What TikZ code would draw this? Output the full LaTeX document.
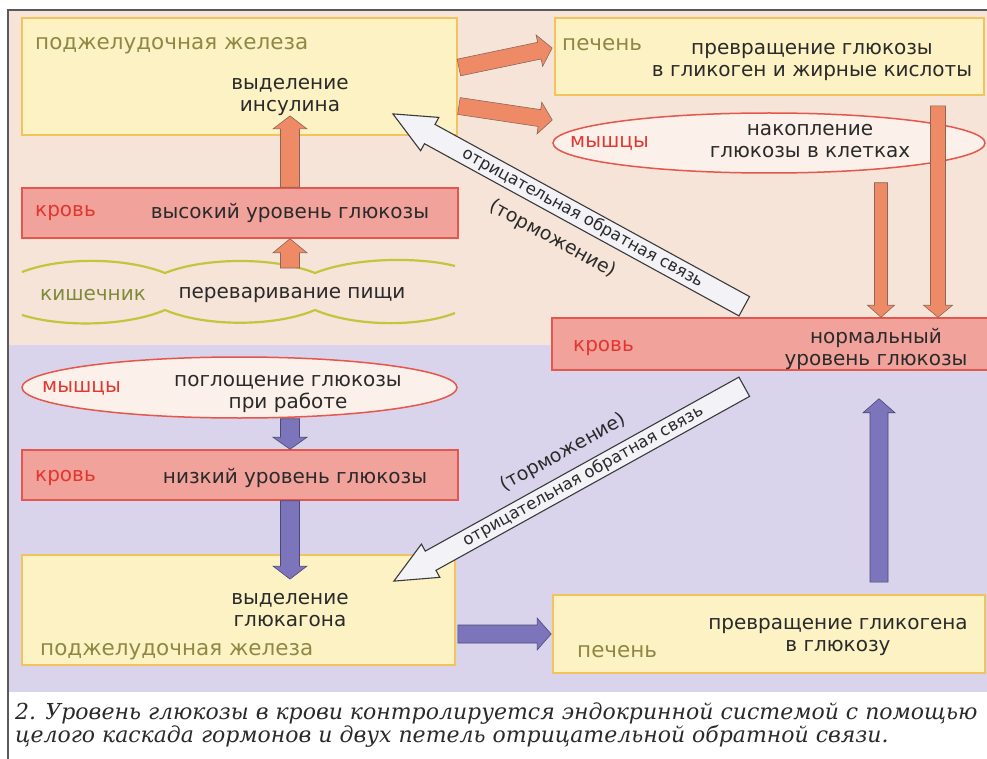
\documentclass[tikz,border=0pt]{standalone}
\usepackage{fontspec}
\setmainfont{DejaVu Sans}
\newfontfamily\capfont{DejaVu Serif}
\usetikzlibrary{calc,shapes.geometric}
\definecolor{peach}{HTML}{F6E4D8}
\definecolor{lav}{HTML}{D9D4EB}
\definecolor{yfill}{HTML}{FCF2C4}
\definecolor{ydraw}{HTML}{F3C45C}
\definecolor{bfill}{HTML}{F0A29B}
\definecolor{bdraw}{HTML}{E5574C}
\definecolor{redtxt}{HTML}{E2362E}
\definecolor{olivetxt}{HTML}{8E8845}
\definecolor{gutolive}{HTML}{7E8A3A}
\definecolor{darktxt}{HTML}{2A2A2A}
\definecolor{efill}{HTML}{FBF1EA}
\definecolor{orfill}{HTML}{EE8B66}
\definecolor{ordraw}{HTML}{8C6656}
\definecolor{pufill}{HTML}{7C75BC}
\definecolor{pudraw}{HTML}{4C4870}
\definecolor{fbfill}{HTML}{F3F3F7}
\definecolor{fbdraw}{HTML}{3A3A3A}
\definecolor{gutline}{HTML}{C2C63C}
\definecolor{framec}{HTML}{5A5A5A}
% #1 style, #2 tail, #3 tip, #4 shaft half width, #5 head half width, #6 head length
\newcommand{\fatarrow}[6][]{%
  \coordinate (faH) at ($(#3)!#6!(#2)$);
  \draw[#1] ($(#2)!#4!90:(#3)$) -- ($(faH)!#4!90:(#3)$) -- ($(faH)!#5!90:(#3)$) -- (#3)
    -- ($(faH)!#5!-90:(#3)$) -- ($(faH)!#4!-90:(#3)$) -- ($(#2)!#4!-90:(#3)$) -- cycle;
}
\begin{document}
\begin{tikzpicture}[x=1pt,y=-1pt,
  ybox/.style={draw=ydraw, fill=yfill, line width=1.8pt, rectangle, inner sep=0pt},
  bbox/.style={draw=bdraw, fill=bfill, line width=1.5pt, rectangle, inner sep=0pt},
  mbox/.style={draw=bdraw, fill=efill, line width=1.5pt, ellipse, inner sep=0pt},
  txt/.style={text=darktxt, font=\fontsize{20}{22}\selectfont, align=center, inner sep=0pt},
  redlbl/.style={text=redtxt, font=\fontsize{20}{22}\selectfont, anchor=west, inner sep=0pt},
  olvlbl/.style={text=olivetxt, font=\fontsize{21.5}{22}\selectfont, anchor=west, inner sep=0pt},
  orarrow/.style={fill=orfill, draw=ordraw, line width=0.6pt},
  puarrow/.style={fill=pufill, draw=pudraw, line width=0.6pt},
  fbarrow/.style={fill=fbfill, draw=fbdraw, line width=1.1pt},
  fblbl/.style={text=darktxt, font=\fontsize{16.5}{18}\selectfont, inner sep=0pt},
  tormlbl/.style={text=darktxt, font=\fontsize{19}{20}\selectfont, inner sep=0pt},
  caplbl/.style={text=darktxt, font=\capfont\itshape\fontsize{22}{25}\selectfont, anchor=base west, inner sep=0pt},
]
\useasboundingbox (0,0) rectangle (987,759);
\fill[white] (0,0) rectangle (987,759);
\fill[peach] (8,10) rectangle (987,345);
\fill[lav] (8,345) rectangle (987,692);
\draw[framec, line width=1.2pt] (8,759) -- (8,10) -- (987,10);

% boxes
\node[ybox, minimum width=435pt, minimum height=117pt] (pan1) at (239.5,76.5) {};
\node[ybox, minimum width=429pt, minimum height=77pt] (liv1) at (769.5,56.5) {};
\node[mbox, minimum width=432pt, minimum height=60pt] (mus2) at (769,143) {};
\node[bbox, minimum width=436pt, minimum height=50pt] (bhi) at (240,213) {};
\node[mbox, minimum width=435pt, minimum height=61pt] (mus1) at (239.5,387.5) {};
\node[bbox, minimum width=436pt, minimum height=50pt] (blo) at (240,475) {};
\node[ybox, minimum width=433pt, minimum height=110pt] (pan2) at (238.5,610) {};
\node[bbox, minimum width=445pt, minimum height=52pt] (bnorm) at (774.5,344) {};
\node[ybox, minimum width=432pt, minimum height=78pt] (liv2) at (769,634) {};

% intestine
\coordinate (gut) at (238,292);
\draw[gutline, line width=2.2pt] (22,272) .. controls (60,257) and (125,257) .. (165,273)
  .. controls (205,257) and (275,257) .. (315,273) .. controls (355,257) and (420,257) .. (455,266);
\draw[gutline, line width=2.2pt] (22,315) .. controls (60,327) and (125,327) .. (165,310)
  .. controls (205,327) and (275,327) .. (315,310) .. controls (355,327) and (420,327) .. (455,313);

% texts
\node[olvlbl] (pan1t) at (35,46) {поджелудочная железа};
\node[txt] (ins) at (290,97) {выделение\\инсулина};
\node[olvlbl] (liv1t) at (562,45) {печень};
\node[txt] (liv1d) at (812,62) {превращение глюкозы\\в гликоген и жирные кислоты};
\node[redlbl] (mus2t) at (570,143) {мышцы};
\node[txt] (mus2d) at (810,141) {накопление\\глюкозы в клетках};
\node[redlbl] (bhit) at (35,213) {кровь};
\node[txt] (bhid) at (290,213) {высокий уровень глюкозы};
\node[olvlbl, text=gutolive, font=\fontsize{20}{22}\selectfont] (gutt) at (40,295) {кишечник};
\node[txt] (gutd) at (292,295) {переваривание пищи};
\node[redlbl] (mus1t) at (42,388) {мышцы};
\node[txt] (mus1d) at (288,394) {поглощение глюкозы\\при работе};
\node[redlbl] (blot) at (35,478) {кровь};
\node[txt] (blod) at (295,478) {низкий уровень глюкозы};
\node[txt] (glc) at (290,610) {выделение\\глюкагона};
\node[olvlbl] (pan2t) at (40,652) {поджелудочная железа};
\node[redlbl] (bnormt) at (573,348) {кровь};
\node[txt] (bnormd) at (876,349) {нормальный\\уровень глюкозы};
\node[txt] (liv2d) at (838,637) {превращение гликогена\\в глюкозу};
\node[olvlbl] (liv2t) at (577,652) {печень};

% arrow end points
\coordinate (a1t) at ($(bhi.north)+(50,0)$);
\coordinate (a1h) at ($(pan1.south)+(50.5,-20)$);
\coordinate (a2t) at ($(gut)+(52,-24)$);
\coordinate (a2h) at ($(bhi.south)+(50,0)$);
\coordinate (a3t) at ($(mus1.south)+(50.5,0)$);
\coordinate (a3h) at ($(blo.north)+(50,0)$);
\coordinate (a4t) at ($(blo.south)+(50,0)$);
\coordinate (a4h) at ($(pan2.north)+(51.5,25)$);
\coordinate (a5t) at ($(pan1.east)+(1,-9)$);
\coordinate (a5h) at ($(liv1.west)+(-2,-8.5)$);
\coordinate (a6t) at ($(pan1.east)+(1,29.5)$);
\coordinate (a6h) at ($(mus2.west)+(0,-23)$);
\coordinate (a7t) at ($(liv1.south)+(168.5,10)$);
\coordinate (a7h) at ($(bnorm.north)+(163.5,0)$);
\coordinate (a8t) at ($(mus2.south)+(112,9)$);
\coordinate (a8h) at ($(bnorm.north)+(106.5,0)$);
\coordinate (a9t) at ($(liv2.north)+(110,-12)$);
\coordinate (a9h) at ($(bnorm.south)+(104.5,28)$);
\coordinate (a10t) at ($(pan2.east)+(2,24)$);
\coordinate (a10h) at ($(liv2.west)+(-1,0)$);

\fatarrow[orarrow]{a1t}{a1h}{9.5pt}{17pt}{13pt}
\fatarrow[orarrow]{a2t}{a2h}{9.5pt}{17pt}{14pt}
\fatarrow[orarrow]{a5t}{a5h}{8.5pt}{16pt}{13pt}
\fatarrow[orarrow]{a6t}{a6h}{8.5pt}{16pt}{13pt}
\fatarrow[orarrow]{a7t}{a7h}{7.5pt}{14.5pt}{12pt}
\fatarrow[orarrow]{a8t}{a8h}{6.5pt}{13.5pt}{12pt}
\fatarrow[puarrow]{a3t}{a3h}{9.5pt}{17pt}{12pt}
\fatarrow[puarrow]{a4t}{a4h}{9.5pt}{17pt}{13pt}
\fatarrow[puarrow]{a9t}{a9h}{9pt}{16pt}{14pt}
\fatarrow[puarrow]{a10t}{a10h}{9pt}{16pt}{14pt}

% feedback arrows
\coordinate (f1t) at ($(bnorm.north west)+(193,-11)$);
\coordinate (f1h) at ($(pan1.south east)+(-65,-22)$);
\coordinate (f2t) at ($(bnorm.south west)+(193,16)$);
\coordinate (f2h) at ($(pan2.north east)+(-62,27)$);
\fatarrow[fbarrow]{f1t}{f1h}{11pt}{19pt}{42pt}
\fatarrow[fbarrow]{f2t}{f2h}{11pt}{19pt}{42pt}
\path (f1t) -- (f1h) node[pos=0.46, sloped, fblbl] (f1lbl) {отрицательная обратная связь};
\path (f2t) -- (f2h) node[pos=0.46, sloped, fblbl] (f2lbl) {отрицательная обратная связь};
\coordinate (f1a) at ($(f1t)!33pt!90:(f1h)$);
\coordinate (f1b) at ($(f1h)!33pt!-90:(f1t)$);
\coordinate (f2a) at ($(f2t)!30pt!-90:(f2h)$);
\coordinate (f2b) at ($(f2h)!30pt!90:(f2t)$);
\path (f1a) -- (f1b) node[pos=0.5, sloped, tormlbl] (f1tr) {(торможение)};
\path (f2a) -- (f2b) node[pos=0.475, sloped, tormlbl] (f2tr) {(торможение)};

% caption
\node[caplbl] (cap1) at (15,719) {2. Уровень глюкозы в крови контролируется эндокринной системой с помощью};
\node[caplbl] (cap2) at (15,742) {целого каскада гормонов и двух петель отрицательной обратной связи.};
\end{tikzpicture}
\end{document}
